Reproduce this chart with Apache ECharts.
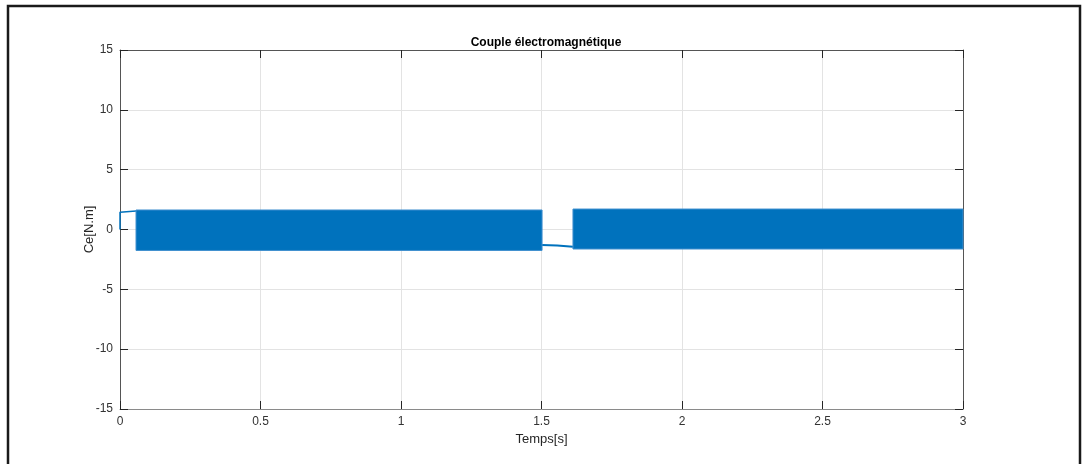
<!DOCTYPE html>
<html>
<head>
<meta charset="utf-8">
<script src="https://cdn.jsdelivr.net/npm/echarts@6/dist/echarts.min.js"></script>
<style>
html,body{margin:0;padding:0;background:#fff;}
#chart{width:1082px;height:464px;}
</style>
</head>
<body>
<div id="chart"></div>
<script>
// ---- data ----
var titleText = 'Couple électromagnétique';
var xName = 'Temps[s]';
var yName = 'Ce[N.m]';
var xTicks = [0, 0.5, 1, 1.5, 2, 2.5, 3];
var yTicks = [-15, -10, -5, 0, 5, 10, 15];

// start-up transient (before the oscillating band)
var startT = [0, 0, 0.057];
var startV = [0, 1.45, 1.55];
// transition between the two oscillating bands
var gapT = [1.502, 1.556, 1.560, 1.612];
var gapV = [-1.30, -1.33, -1.43, -1.45];
// envelopes of the dense oscillation bands
var bandStartT = [0.057, 1.612];
var bandEndT = [1.502, 3.0];
var bandUpper = [1.63, 1.71];
var bandLower = [-1.75, -1.63];

var blue = '#0072bd';
var axisCol = '#262626';
var gridCol = '#e3e3e3';

function pairs(t, v){ return t.map(function(x,i){ return [x, v[i]]; }); }
var bandData = bandStartT.map(function(s,i){ return [s, bandEndT[i], bandUpper[i], bandLower[i]]; });

var chart = echarts.init(document.getElementById('chart'), null, {renderer:'canvas'});
var labelStyle = {color:'#333', fontSize:12, fontFamily:'Liberation Sans, Arial, sans-serif'};

var option = {
  animation:false,
  backgroundColor:'#fff',
  title:{text:titleText, left:541, top:32, textAlign:'center',
    textStyle:{fontSize:12, fontWeight:'bold', color:'#000', fontFamily:'Liberation Sans, Arial, sans-serif'}},
  grid:{left:120, right:119, top:50, bottom:55, containLabel:false},
  xAxis:[{
    type:'value', min:0, max:3, interval:0.5, position:'bottom',
    name:xName, nameLocation:'middle', nameGap:24, nameMoveOverlap:false,
    nameTextStyle:{color:axisCol, fontSize:13, fontFamily:'Liberation Sans, Arial, sans-serif'},
    axisLine:{show:true, onZero:false, lineStyle:{color:'#8a8a8a', width:1}},
    axisTick:{show:true, inside:true, length:8, lineStyle:{color:axisCol}},
    axisLabel:Object.assign({margin:7}, labelStyle),
    splitLine:{show:true, lineStyle:{color:gridCol, width:1}}
  },{
    type:'value', min:0, max:3, interval:0.5, position:'top',
    axisLine:{show:true, onZero:false, lineStyle:{color:'#555', width:1}},
    axisTick:{show:true, inside:true, length:8, lineStyle:{color:axisCol}},
    axisLabel:{show:false}, splitLine:{show:false}
  }],
  yAxis:[{
    type:'value', min:-15, max:15, interval:5, position:'left',
    name:yName, nameLocation:'middle', nameGap:24, nameRotate:90, nameMoveOverlap:false,
    nameTextStyle:{color:axisCol, fontSize:13, fontFamily:'Liberation Sans, Arial, sans-serif'},
    axisLine:{show:true, onZero:false, lineStyle:{color:'#555', width:1}},
    axisTick:{show:true, inside:true, length:8, lineStyle:{color:axisCol}},
    axisLabel:Object.assign({margin:7}, labelStyle),
    splitLine:{show:true, lineStyle:{color:gridCol, width:1}}
  },{
    type:'value', min:-15, max:15, interval:5, position:'right',
    axisLine:{show:true, onZero:false, lineStyle:{color:'#555', width:1}},
    axisTick:{show:true, inside:true, length:8, lineStyle:{color:axisCol}},
    axisLabel:{show:false}, splitLine:{show:false}
  }],
  series:[
    {type:'line', data:pairs(startT, startV), showSymbol:false, symbol:'none',
     lineStyle:{color:blue, width:1.5}, z:3},
    {type:'line', data:pairs(gapT, gapV), showSymbol:false, symbol:'none',
     lineStyle:{color:blue, width:2}, z:3},
    {type:'custom', data:bandData, z:4,
     encode:{x:[0,1], y:[2,3]},
     renderItem:function(params, api){
       var p1 = api.coord([api.value(0), api.value(2)]);
       var p2 = api.coord([api.value(1), api.value(2)]);
       var p3 = api.coord([api.value(1), api.value(3)]);
       var p4 = api.coord([api.value(0), api.value(3)]);
       return {type:'polygon', shape:{points:[p1,p2,p3,p4]},
         style:{fill:blue, stroke:'#3f8fcf', lineWidth:1}};
     }}
  ],
  graphic:[{
    type:'rect', shape:{x:8, y:6, width:1072, height:480},
    style:{fill:'none', stroke:'#1a1a1a', lineWidth:2.5}, z:100, silent:true
  }]
};
chart.setOption(option);
</script>
</body>
</html>
